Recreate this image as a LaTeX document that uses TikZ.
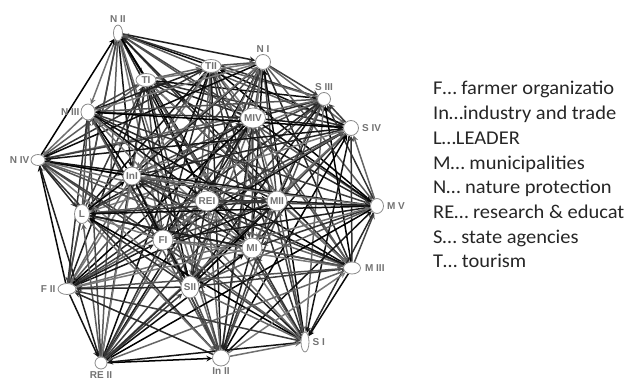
\documentclass[tikz,border=0pt]{standalone}
\usepackage{fontspec}
\newfontfamily\legendfont[FakeStretch=1.05]{Carlito}
\newfontfamily\labelfont{Liberation Sans}
\usetikzlibrary{shapes.geometric,backgrounds}
\tikzset{
  actor/.style={ellipse,draw=black!45,fill=white,inner sep=0pt,line width=0.8pt,
    font=\labelfont\bfseries\fontsize{10}{11}\selectfont,text=black!55},
  every label/.style={font=\labelfont\bfseries\fontsize{10}{11}\selectfont,text=black!55,inner sep=1pt},
  tie/.style={line width=1.5pt},
  key/.style={anchor=base west,inner sep=0pt,text=black!85,font=\legendfont\fontsize{19.5}{23}\selectfont}
}
\begin{document}
\begin{tikzpicture}[>=stealth,x=1pt,y=-1pt]
	\useasboundingbox (0,0) rectangle (625,385);
	% actors
	\node[actor,minimum width=9,minimum height=16,label={[label distance=1]above:N II}] (NII) at (118,33) {};
	\node[actor,minimum width=20,minimum height=13] (TI) at (146,80) {TI};
	\node[actor,minimum width=20,minimum height=13] (TII) at (211,66) {TII};
	\node[actor,minimum width=15,minimum height=15,label={[label distance=0]above:N I}] (NI) at (263,62) {};
	\node[actor,minimum width=13,minimum height=13,label={[label distance=0]above:S III}] (SIII) at (324,99) {};
	\node[actor,minimum width=22,minimum height=20] (MIV) at (253,118) {MIV};
	\node[actor,minimum width=15,minimum height=15,label={[label distance=2]right:S IV}] (SIV) at (351,128) {};
	\node[actor,minimum width=14,minimum height=16,label={[label distance=0]left:N III}] (NIII) at (88,112) {};
	\node[actor,minimum width=14,minimum height=11,label={[label distance=0]left:N IV}] (NIV) at (38,160) {};
	\node[actor,minimum width=18,minimum height=18] (InI) at (132,176) {InI};
	\node[actor,minimum width=22,minimum height=20] (REI) at (207,201) {REI};
	\node[actor,minimum width=20,minimum height=20] (MII) at (277,201) {MII};
	\node[actor,minimum width=13,minimum height=15,label={[label distance=2]right:M V}] (MV) at (377,206) {};
	\node[actor,minimum width=15,minimum height=19] (L) at (82,214) {L};
	\node[actor,minimum width=20,minimum height=20] (FI) at (163,240) {FI};
	\node[actor,minimum width=20,minimum height=20] (MI) at (252,248) {MI};
	\node[actor,minimum width=17,minimum height=12,label={[label distance=3]right:M III}] (MIII) at (352,268) {};
	\node[actor,minimum width=18,minimum height=22] (SII) at (190,287) {SII};
	\node[actor,minimum width=18,minimum height=11,label={[label distance=1]left:F II}] (FII) at (67,289) {};
	\node[actor,minimum width=12,minimum height=12,label={[label distance=1]below:RE II}] (REII) at (101,363) {};
	\node[actor,minimum width=17,minimum height=16,label={[label distance=0]below:In II}] (InII) at (221,358) {};
	\node[actor,minimum width=8,minimum height=20,label={[label distance=2]right:S I}] (SI) at (305,342) {};
	% ties between all actors
	\def\actors{NII,TI,TII,NI,SIII,MIV,SIV,NIII,NIV,InI,REI,MII,MV,L,FI,MI,MIII,SII,FII,REII,InII,SI}
	\begin{scope}[on background layer]
		\foreach \a [count=\i] in \actors {
			\foreach \b [count=\j] in \actors {
				\ifnum\j>\i
					\pgfmathtruncatemacro\s{52+4*mod(\i*17+\j*11,13)}
					\ifodd\numexpr\i+\j\relax
						\draw[tie,->,black!\s] (\a) -- (\b);
					\else
						\draw[tie,<-,black!\s] (\a) -- (\b);
					\fi
				\fi
			}
		}
	\end{scope}
	% legend
	\foreach \t [count=\k] in {F… farmer organizatio,In…industry and trade,L…LEADER,M… municipalities,
		N… nature protection,RE… research \& educat,S… state agencies,T… tourism}
		\node[key] (key\k) at (433,{95+24.7*(\k-1)}) {\t};
\end{tikzpicture}
\end{document}
